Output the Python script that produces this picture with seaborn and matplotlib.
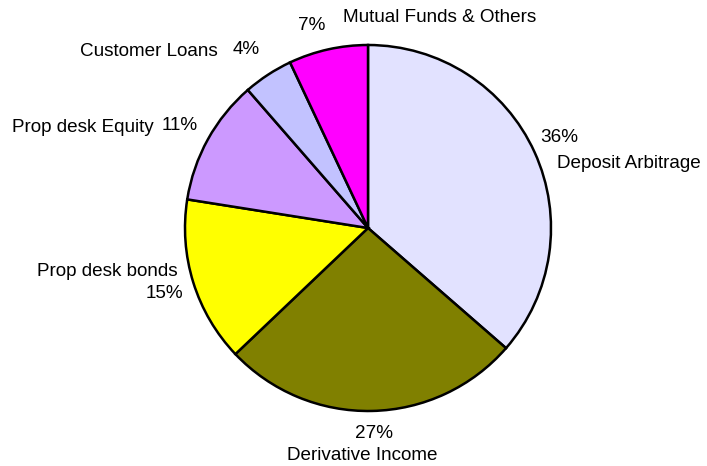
import matplotlib
matplotlib.use("Agg")
import matplotlib.pyplot as plt
import seaborn as sns

categories = ["Deposit Arbitrage", "Derivative Income", "Prop desk bonds",
              "Prop desk Equity", "Customer Loans", "Mutual Funds & Others"]
values = [36.4, 26.5, 14.6, 11.1, 4.4, 7.0]
pct_labels = ["36%", "27%", "15%", "11%", "4%", "7%"]
colors = ["#E2E2FF", "#808000", "#FFFF00", "#CC99FF", "#C2C2FF", "#FF00FF"]

sns.set_style("white")
plt.rcParams['font.family'] = ['Liberation Sans', 'DejaVu Sans']

W, H = 707, 466
fig = plt.figure(figsize=(W / 100, H / 100), dpi=100)
ax = fig.add_axes([0, 0, 1, 1])

cx, cy, r = 368, 228, 183
ax.pie(values, colors=colors, startangle=90, counterclock=False,
       center=(cx, H - cy), radius=r,
       wedgeprops=dict(edgecolor="black", linewidth=1.8))
ax.set_xlim(0, W)
ax.set_ylim(0, H)
ax.set_aspect("equal")
ax.axis("off")

fs = 13.6


def t(x, y, s, ha="left"):
    ax.text(x, H - y, s, ha=ha, va="center", fontsize=fs, color="black")


# Deposit Arbitrage
t(540, 137, pct_labels[0])
t(557, 164, categories[0])
# Derivative Income
t(374, 434, pct_labels[1], ha="center")
t(362, 456, categories[1], ha="center")
# Prop desk bonds
t(178, 272, categories[2], ha="right")
t(183, 293, pct_labels[2], ha="right")
# Prop desk Equity
t(12, 127, categories[3])
t(162, 126, pct_labels[3])
# Customer Loans
t(80, 52, categories[4])
t(233, 50, pct_labels[4])
# Mutual Funds
t(298, 26, pct_labels[5])
t(343, 18, categories[5])

fig.savefig("out.png", dpi=100)
